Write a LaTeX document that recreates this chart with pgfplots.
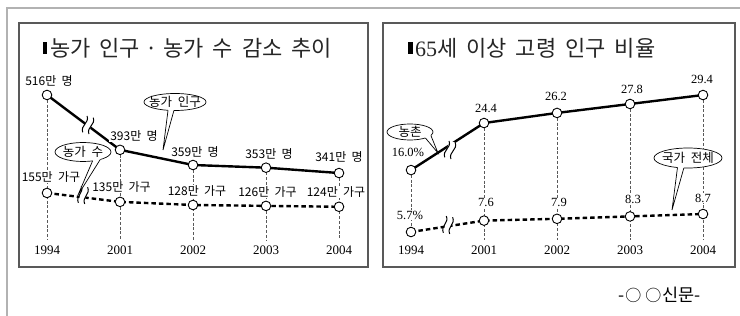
\documentclass[border=0pt]{standalone}
\usepackage{fontspec}
\usepackage{pgfplots}
\pgfplotsset{compat=1.18}
\usetikzlibrary{calc}
\setmainfont{Liberation Serif}
\newfontfamily\kr{Noto Sans CJK KR}
\newfontfamily\krw[WordSpace=2]{Noto Sans CJK KR}

\pgfplotsset{
  panel/.style={scale only axis, height=244pt, anchor=south west,
    xtick=\empty, ytick=\empty, clip=false,
    axis line style={draw=black!65, line width=1.4pt}},
  over/.style={scale only axis, height=244pt, anchor=south west, hide axis, clip=false},
  solidline/.style={black, line width=2.4pt, mark=*, mark size=4.8pt,
     mark options={fill=white, draw=black, line width=0.9pt, solid}},
  dashline/.style={black, line width=2.4pt, dash pattern=on 4.5pt off 3pt, mark=*, mark size=4.8pt,
     mark options={fill=white, draw=black, line width=0.9pt, solid}},
}
\tikzset{
  vline/.style={black!65, line width=0.75pt, dash pattern=on 3pt off 1.8pt},
  klab/.style={font=\kr\fontsize{12}{12}\selectfont, inner sep=0.8pt, fill=white},
  nlab/.style={font=\fontsize{12.5}{13}\selectfont, inner sep=0.8pt, fill=white},
  yr/.style={font=\fontsize{13}{13}\selectfont, inner sep=0.8pt, fill=white},
}
% callout: #1 cx, #2 cy, #3 rx, #4 ry, #5 angle1, #6 angle2, #7 tip, #8 text
\newcommand\callout[8]{%
  \draw[fill=white, line width=0.7pt] (#1pt,#2pt) ellipse [x radius=#3pt, y radius=#4pt];
  \coordinate (B1) at ($(#1pt,#2pt)+(#5:#3pt and #4pt)$);
  \coordinate (B2) at ($(#1pt,#2pt)+(#6:#3pt and #4pt)$);
  \coordinate (T) at (#7);
  \fill[white] ($(T)!1.12!(B1)$) -- (T) -- ($(T)!1.12!(B2)$) -- cycle;
  \draw[line width=0.7pt] (B1) -- (T) -- (B2);
  \node[font=\krw\fontsize{12.5}{13}\selectfont, inner sep=0pt] at (#1pt,#2pt) {#8};
}
% break mark
\newcommand\brk[3]{%
  \begin{scope}[shift={(#1pt,#2pt)}, rotate=#3]
    \fill[white] (-3pt,-8.5pt) rectangle (3pt,8.5pt);
    \draw[line width=1pt] (-3.2pt,-8.5pt) .. controls (-7.5pt,-2pt) and (1pt,2pt) .. (-3.2pt,8.5pt);
    \draw[line width=1pt] (3.2pt,-8.5pt) .. controls (-1pt,-2pt) and (7.5pt,2pt) .. (3.2pt,8.5pt);
  \end{scope}}
\newcommand\ws{\hspace{9pt}}
\newcommand\ds{\hspace{5.5pt}}

\begin{document}
\begin{tikzpicture}
\useasboundingbox (0,0) rectangle (740pt,316pt);
\fill[white] (0,0) rectangle (740pt,316pt);
% outer frame
\draw[black!30, line width=2pt] (7pt,0pt) -- (7pt,307.5pt) -- (740pt,307.5pt);

% ---------------- left panel: population ----------------
\begin{axis}[panel, at={(19pt,49pt)}, width=349pt,
  xmin=-0.3836, xmax=4.397, ymin=130.3, ymax=677.4]
  \draw[vline] (axis cs:0,516) -- (axis cs:0,190.9);
  \draw[vline] (axis cs:1,393) -- (axis cs:1,190.9);
  \draw[vline] (axis cs:2,359) -- (axis cs:2,190.9);
  \draw[vline] (axis cs:3,353) -- (axis cs:3,190.9);
  \draw[vline] (axis cs:4,341) -- (axis cs:4,190.9);
  \addplot[solidline] coordinates {(0,516) (1,393) (2,359) (3,353) (4,341)};
  \node[klab, xshift=2pt, yshift=14pt] at (axis cs:0,516) {516만 명};
  \node[klab, xshift=14pt, yshift=14pt] at (axis cs:1,393) {393만 명};
  \node[klab, xshift=2pt, yshift=13pt] at (axis cs:2,359) {359만 명};
  \node[klab, xshift=3pt, yshift=14pt] at (axis cs:3,353) {353만 명};
  \node[klab, xshift=0pt, yshift=16pt] at (axis cs:4,341) {341만 명};
  \node[yr] at (axis cs:0,168.5) {1994};
  \node[yr] at (axis cs:1,168.5) {2001};
  \node[yr] at (axis cs:2,168.5) {2002};
  \node[yr] at (axis cs:3,168.5) {2003};
  \node[yr] at (axis cs:4,168.5) {2004};
\end{axis}
% left panel: households
\begin{axis}[over, at={(19pt,49pt)}, width=349pt,
  xmin=-0.3836, xmax=4.397, ymin=-11, ymax=536]
  \addplot[dashline] coordinates {(0,155) (1,135) (2,128) (3,126) (4,124)};
  \node[klab, xshift=4pt, yshift=16pt] at (axis cs:0,155) {155만 가구};
  \node[klab, xshift=1.5pt, yshift=15pt] at (axis cs:1,135) {135만 가구};
  \node[klab, xshift=4pt, yshift=14pt] at (axis cs:2,128) {128만 가구};
  \node[klab, xshift=1.5pt, yshift=14pt] at (axis cs:3,126) {126만 가구};
  \node[klab, xshift=-3pt, yshift=15pt] at (axis cs:4,124) {124만 가구};
\end{axis}

% ---------------- right panel: rural ----------------
\begin{axis}[panel, at={(383pt,49pt)}, width=352pt,
  xmin=-0.3836, xmax=4.438, ymin=-1.31, ymax=42.26]
  \draw[vline] (axis cs:0,16.0) -- (axis cs:0,5.0);
  \draw[vline] (axis cs:1,24.4) -- (axis cs:1,3.51);
  \draw[vline] (axis cs:2,26.2) -- (axis cs:2,3.51);
  \draw[vline] (axis cs:3,27.8) -- (axis cs:3,3.51);
  \draw[vline] (axis cs:4,29.4) -- (axis cs:4,3.51);
  \addplot[solidline] coordinates {(0,16.0) (1,24.4) (2,26.2) (3,27.8) (4,29.4)};
  \node[nlab, xshift=-3pt, yshift=18pt] at (axis cs:0,16.0) {16.0\%};
  \node[nlab, xshift=2pt, yshift=15pt] at (axis cs:1,24.4) {24.4};
  \node[nlab, xshift=-1pt, yshift=16pt] at (axis cs:2,26.2) {26.2};
  \node[nlab, xshift=2pt, yshift=15pt] at (axis cs:3,27.8) {27.8};
  \node[nlab, xshift=-1pt, yshift=16pt] at (axis cs:4,29.4) {29.4};
  \node[yr] at (axis cs:0,1.72) {1994};
  \node[yr] at (axis cs:1,1.72) {2001};
  \node[yr] at (axis cs:2,1.72) {2002};
  \node[yr] at (axis cs:3,1.72) {2003};
  \node[yr] at (axis cs:4,1.72) {2004};
\end{axis}
% right panel: national
\begin{axis}[over, at={(383pt,49pt)}, width=352pt,
  xmin=-0.3836, xmax=4.438, ymin=-0.13, ymax=40.53]
  \addplot[dashline] coordinates {(0,5.7) (1,7.6) (2,7.9) (3,8.3) (4,8.7)};
  \node[nlab, xshift=-1pt, yshift=17pt] at (axis cs:0,5.7) {5.7\%};
  \node[nlab, xshift=2pt, yshift=18pt] at (axis cs:1,7.6) {7.6};
  \node[nlab, xshift=2pt, yshift=16pt] at (axis cs:2,7.9) {7.9};
  \node[nlab, xshift=3pt, yshift=17pt] at (axis cs:3,8.3) {8.3};
  \node[nlab, xshift=0pt, yshift=16pt] at (axis cs:4,8.7) {8.7};
\end{axis}

% break marks
\brk{88}{191}{-15}
\brk{83}{121}{-10}
\brk{450}{166}{-15}
\brk{448}{91}{-10}

% callouts
\callout{175}{214}{31}{8.5}{257}{268}{163pt,166pt}{농가 인구}
\callout{83}{164}{28}{9.5}{290}{308}{78pt,121pt}{농가 수}
\callout{410}{184}{23}{8}{312}{335}{438pt,163pt}{농촌}
\callout{688}{158}{34}{10}{252}{263}{672pt,106pt}{국가 전체}

% titles
\fill[black] (42.5pt,262pt) rectangle (47pt,274pt);
\node[anchor=west, inner sep=0pt, font=\kr\fontsize{22}{22}\selectfont, text=black!85] at (50pt,268pt) {농가\ws 인구\ds·\ds 농가\ws 수\ws 감소\ws 추이};
\fill[black] (408pt,262pt) rectangle (412.5pt,274pt);
\node[anchor=west, inner sep=0pt, font=\fontsize{22}{22}\selectfont, text=black!85] at (415pt,268pt) {{\rmfamily 65}{\kr 세\ws 이상\ws 고령\ws 인구\ws 비율}};

% source
\node[font=\kr\fontsize{17.5}{18}\selectfont, inner sep=0pt, anchor=west] at (618pt,21pt) {-\hspace{1pt}{\fontsize{16}{16}\selectfont ○\hspace{4pt}○}\hspace{1pt}신문-};
\end{tikzpicture}
\end{document}
